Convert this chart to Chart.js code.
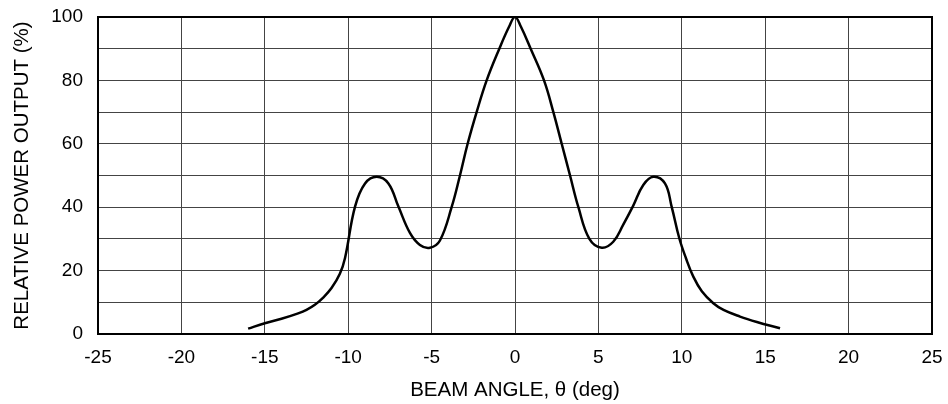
<!DOCTYPE html>
<html lang="en">
<head>
    <meta charset="UTF-8">
    <title>Beam pattern</title>
    <script src="https://cdn.jsdelivr.net/npm/chart.js@4"></script>
    <style>
        body { margin: 0; background: #fff; }
        #wrap { width: 948px; height: 404px; }
    </style>
</head>
<body>
    <div id="wrap"><canvas id="myChart"></canvas></div>
<script>
    // beam angle (deg) and relative power (%)
    const angles = [-16, -15, -14, -13, -12.5, -12, -11.5, -11, -10.5, -10.19, -9.59, -8.99, -8.29, -7.59, -6.99, -6.29, -5.7, -5.1, -4.5,
                    -3.8, -3.3, -2.84, -2.3, -1.7, -0.94, -0.35, 0, 0.35, 0.94, 1.74, 2.3, 2.8, 3.3, 3.8, 4.46, 5.2, 5.89,
                    6.49, 7.09, 7.69, 8.29, 8.99, 9.39, 9.85, 10.25, 10.69, 11.2, 11.89, 12.5, 13.49, 14.5, 15.89];
    const power = [1.7, 3.4, 4.8, 6.5, 7.6, 9.2, 11.5, 14.5, 19, 24, 40.2, 47.5, 49.6, 47.5, 40.2, 31.8, 28.1, 27.2, 29.5,
                   40, 50, 60, 70, 80, 90, 97, 100, 97, 90, 80, 70, 60, 50, 40, 30, 27.2, 29.1,
                   34.5, 40.5, 47, 49.6, 47.5, 40.2, 30.2, 23.9, 18.1, 13.5, 9.7, 7.6, 5.5, 3.8, 1.8];
    const xTicks = [-25, -20, -15, -10, -5, 0, 5, 10, 15, 20, 25];
    const yLabels = [0, 20, 40, 60, 80, 100];

    const points = angles.map((a, i) => ({ x: a, y: power[i] }));
    const tickFont = { family: 'Liberation Sans, Arial, sans-serif', size: 19 };
    const titleFont = { family: 'Liberation Sans, Arial, sans-serif', size: 20.5 };

    var ctx = document.getElementById('myChart').getContext('2d');
    var chart = new Chart(ctx, {
        type: 'line',
        data: {
            datasets: [{
                label: 'Relative power',
                data: points,
                borderColor: '#000',
                borderWidth: 2.5,
                pointRadius: 0,
                tension: 0.4,
                fill: false
            }]
        },
        options: {
            responsive: true,
            maintainAspectRatio: false,
            animation: false,
            layout: { padding: { left: 0, right: 16, top: 17, bottom: 0 } },
            plugins: { legend: { display: false }, tooltip: { enabled: false } },
            scales: {
                x: {
                    type: 'linear',
                    min: -25,
                    max: 25,
                    afterBuildTicks: (s) => { s.ticks = xTicks.map(v => ({ value: v })); },
                    afterFit: (s) => { s.height = 70; s.paddingLeft = 0; s.paddingRight = 0; },
                    grid: { color: '#444', lineWidth: 1, drawTicks: false },
                    border: { color: '#000', width: 2 },
                    ticks: { color: '#000', font: tickFont, padding: 12, maxRotation: 0 },
                    title: { display: true, text: 'BEAM ANGLE, θ (deg)', color: '#000', font: titleFont, padding: { top: 0, bottom: 1 } }
                },
                y: {
                    min: 0,
                    max: 100,
                    afterFit: (s) => { s.width = 98; s.paddingTop = 0; s.paddingBottom = 0; },
                    grid: { color: '#444', lineWidth: 1, drawTicks: false },
                    border: { color: '#000', width: 2 },
                    ticks: {
                        color: '#000', font: tickFont, padding: 15, stepSize: 10,
                        callback: (v) => yLabels.includes(v) ? v : ''
                    },
                    title: { display: true, text: 'RELATIVE POWER OUTPUT (%)', color: '#000', font: titleFont, padding: { top: 10, bottom: 0 } }
                }
            }
        },
        plugins: [{
            // close the frame on top and right
            id: 'frame',
            afterDraw(c) {
                const a = c.chartArea, g = c.ctx;
                g.save();
                g.strokeStyle = '#000';
                g.lineWidth = 2;
                g.strokeRect(a.left, a.top, a.right - a.left, a.bottom - a.top);
                g.restore();
            }
        }]
    });
</script>
</body>
</html>
